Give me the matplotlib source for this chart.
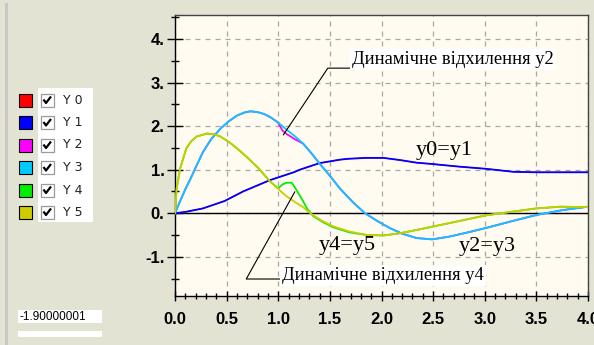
import matplotlib
matplotlib.use("Agg")
import matplotlib.pyplot as plt
from matplotlib.patches import Rectangle
from matplotlib.ticker import MultipleLocator, FuncFormatter

# ---------------- data ----------------
x_y1 = [0, 0.1, 0.27, 0.48, 0.66, 0.81, 0.92, 1.15, 1.21, 1.40, 1.6, 1.68, 1.85, 2.02, 2.18,
        2.34, 2.49, 2.75, 3.01, 3.28, 3.5, 4.0]
y1 = [0, 0.03, 0.11, 0.28, 0.50, 0.65, 0.76, 0.94, 1.00, 1.15, 1.23, 1.25, 1.27, 1.27, 1.22,
      1.16, 1.13, 1.07, 1.02, 0.95, 0.94, 0.94]
y0 = list(y1)

x_y3 = [0, 0.05, 0.1, 0.15, 0.21, 0.27, 0.35, 0.44, 0.52, 0.6, 0.67, 0.73, 0.8, 0.86, 0.92, 1.0,
        1.04, 1.08, 1.16, 1.24, 1.32, 1.40, 1.50, 1.60, 1.72, 1.84, 1.96, 2.08, 2.2, 2.34, 2.49,
        2.65, 2.8, 3.01, 3.25, 3.5, 3.75, 4.0]
y3 = [0, 0.28, 0.55, 0.79, 1.10, 1.40, 1.70, 1.94, 2.11, 2.24, 2.31, 2.34, 2.32, 2.28, 2.21, 2.08,
      2.00, 1.92, 1.77, 1.60, 1.38, 1.14, 0.86, 0.56, 0.26, 0.0, -0.18, -0.34, -0.47, -0.57, -0.60,
      -0.54, -0.46, -0.34, -0.19, -0.04, 0.07, 0.15]
y2 = [0, 0.28, 0.55, 0.79, 1.10, 1.40, 1.70, 1.94, 2.11, 2.24, 2.31, 2.34, 2.32, 2.28, 2.21, 2.08,
      1.90, 1.82, 1.70, 1.60, 1.38, 1.14, 0.86, 0.56, 0.26, 0.0, -0.18, -0.34, -0.47, -0.57, -0.60,
      -0.54, -0.46, -0.34, -0.19, -0.04, 0.07, 0.15]

x_y5 = [0, 0.016, 0.05, 0.11, 0.16, 0.21, 0.31, 0.38, 0.44, 0.52, 0.6, 0.7, 0.81, 0.92, 1.0, 1.04,
        1.08, 1.13, 1.16, 1.24, 1.28, 1.34, 1.43, 1.53, 1.69, 1.86, 2.02, 2.18, 2.37, 2.49, 2.75,
        3.01, 3.25, 3.5, 3.73, 4.0]
y5 = [0, 0.57, 1.03, 1.49, 1.66, 1.76, 1.83, 1.81, 1.76, 1.64, 1.49, 1.28, 1.03, 0.73, 0.56, 0.47,
      0.39, 0.31, 0.26, 0.14, 0.06, -0.05, -0.18, -0.30, -0.42, -0.50, -0.51, -0.46, -0.37, -0.31,
      -0.18, -0.05, 0.03, 0.11, 0.15, 0.14]
y4 = [0, 0.57, 1.03, 1.49, 1.66, 1.76, 1.83, 1.81, 1.76, 1.64, 1.49, 1.28, 1.03, 0.73, 0.57, 0.66,
      0.70, 0.70, 0.60, 0.28, 0.10, -0.07, -0.20, -0.32, -0.44, -0.50, -0.51, -0.46, -0.37, -0.31,
      -0.18, -0.05, 0.03, 0.11, 0.15, 0.14]

series_names = ["Y 0", "Y 1", "Y 2", "Y 3", "Y 4", "Y 5"]
series_colors = ["#ff0000", "#0000ff", "#ff00ff", "#00ccff", "#00ee00", "#cccc00"]

x_ticks = [0.0, 0.5, 1.0, 1.5, 2.0, 2.5, 3.0, 3.5, 4.0]
y_ticks = [-1, 0, 1, 2, 3, 4]
x_range = (0.0, 4.0)
y_range = (-1.9, 4.55)
status_value = "-1.90000001"

ann_y2_text = "Динамічне відхилення y2"
ann_y4_text = "Динамічне відхилення y4"
eq_labels = ["y0=y1", "y2=y3", "y4=y5"]
eq_pos = [(2.61, 1.45), (3.02, -0.77), (1.67, -0.73)]

# ---------------- figure ----------------
W, H = 594, 345
BG = "#e3e3d4"
fig = plt.figure(figsize=(W / 100, H / 100), dpi=100, facecolor=BG)

# overlay in pixel coordinates for the side panel
ov = fig.add_axes([0, 0, 1, 1], zorder=0)
ov.set_xlim(0, W)
ov.set_ylim(H, 0)
ov.set_axis_off()
ov.add_patch(Rectangle((5, 3), 3, H - 3, facecolor="#c8c8c8", edgecolor="none"))
ov.add_patch(Rectangle((38, 88), 55, 134, facecolor="white", edgecolor="none"))
row_y = [100, 122.5, 145, 167.5, 190, 212]
for name, col, ry in zip(series_names, series_colors, row_y):
    ov.add_patch(Rectangle((19, ry - 6.5), 13, 13, facecolor=col, edgecolor="black", lw=0.8))
    ov.add_patch(Rectangle((40.5, ry - 6.5), 13, 13, facecolor="white", edgecolor="#9a9a9a", lw=0.9))
    ov.plot([43.5, 46, 51], [ry - 0.5, ry + 3, ry - 3.5], color="black", lw=1.6,
            solid_capstyle="butt")
    ov.text(63, ry, name, fontsize=9, family="DejaVu Sans", va="center", ha="left",
            color="#222222")
ov.add_patch(Rectangle((18, 310), 84, 13, facecolor="white", edgecolor="none"))
ov.add_patch(Rectangle((18, 331), 84, 6, facecolor="white", edgecolor="none"))
ov.text(19, 316.5, status_value, fontsize=8.5, family="Liberation Sans", va="center",
        ha="left", color="black")

# main axes
ax = fig.add_axes([175 / W, (H - 296) / H, (588 - 175) / W, (296 - 15) / H], zorder=1)
ax.set_facecolor("#fffbf0")
ax.set_xlim(*x_range)
ax.set_ylim(*y_range)

ax.grid(True, which="major", color="#a8a8a8", linestyle=(0, (4, 4)), lw=0.9)
ax.set_axisbelow(True)
ax.axhline(0, color="black", lw=1.0, zorder=2)

for s in ["left", "bottom"]:
    ax.spines[s].set_color("black")
    ax.spines[s].set_linewidth(1.0)
for s in ["top", "right"]:
    ax.spines[s].set_color("#444444")
    ax.spines[s].set_linewidth(1.0)

ax.xaxis.set_major_locator(MultipleLocator(0.5))
ax.xaxis.set_minor_locator(MultipleLocator(0.1))
ax.yaxis.set_major_locator(MultipleLocator(1))
ax.yaxis.set_minor_locator(MultipleLocator(0.5))
ax.set_xticks(x_ticks)
ax.set_yticks(y_ticks)
ax.xaxis.set_major_formatter(FuncFormatter(lambda v, p: f"{v:.1f}"))
ax.yaxis.set_major_formatter(FuncFormatter(lambda v, p: f"{int(round(v))}."))

ax.tick_params(axis="y", which="major", direction="inout", length=11, width=1, pad=2,
               labelsize=12)
ax.tick_params(axis="y", which="minor", direction="inout", length=5.5, width=1)
ax.tick_params(axis="x", which="major", direction="inout", length=7, width=1, pad=8,
               labelsize=12)
ax.tick_params(axis="x", which="minor", direction="inout", length=4, width=1)
for lab in ax.get_xticklabels() + ax.get_yticklabels():
    lab.set_fontweight("bold")
    lab.set_family("Liberation Sans")

lw = 1.3
ax.plot(x_y1, y0, color=series_colors[0], lw=0.8, zorder=3)
ax.plot(x_y1, y1, color=series_colors[1], lw=lw, zorder=3)
ax.plot(x_y3, y2, color=series_colors[2], lw=lw, zorder=3)
ax.plot(x_y3, y3, color=series_colors[3], lw=lw, zorder=3)
ax.plot(x_y5, y4, color=series_colors[4], lw=lw, zorder=3)
ax.plot(x_y5, y5, color=series_colors[5], lw=lw, zorder=3)

# annotations
serif = "Liberation Serif"
ax.plot([1.05, 1.48, 1.71], [1.80, 3.33, 3.33], color="black", lw=0.8, zorder=4)
ax.text(1.715, 3.52, ann_y2_text, family=serif, fontsize=13.3, va="center", ha="left",
        zorder=5, bbox=dict(facecolor="white", edgecolor="none", pad=1.5))
ax.plot([1.16, 0.69, 1.03], [0.49, -1.51, -1.51], color="black", lw=0.8, zorder=4)
ax.text(1.035, -1.44, ann_y4_text, family=serif, fontsize=13.3, va="center", ha="left",
        zorder=5, bbox=dict(facecolor="white", edgecolor="none", pad=1.5))
for t, (px, py) in zip(eq_labels, eq_pos):
    ax.text(px, py, t, family=serif, fontsize=16, va="center", ha="center", zorder=5)

fig.savefig("out.png", dpi=100, facecolor=BG)
